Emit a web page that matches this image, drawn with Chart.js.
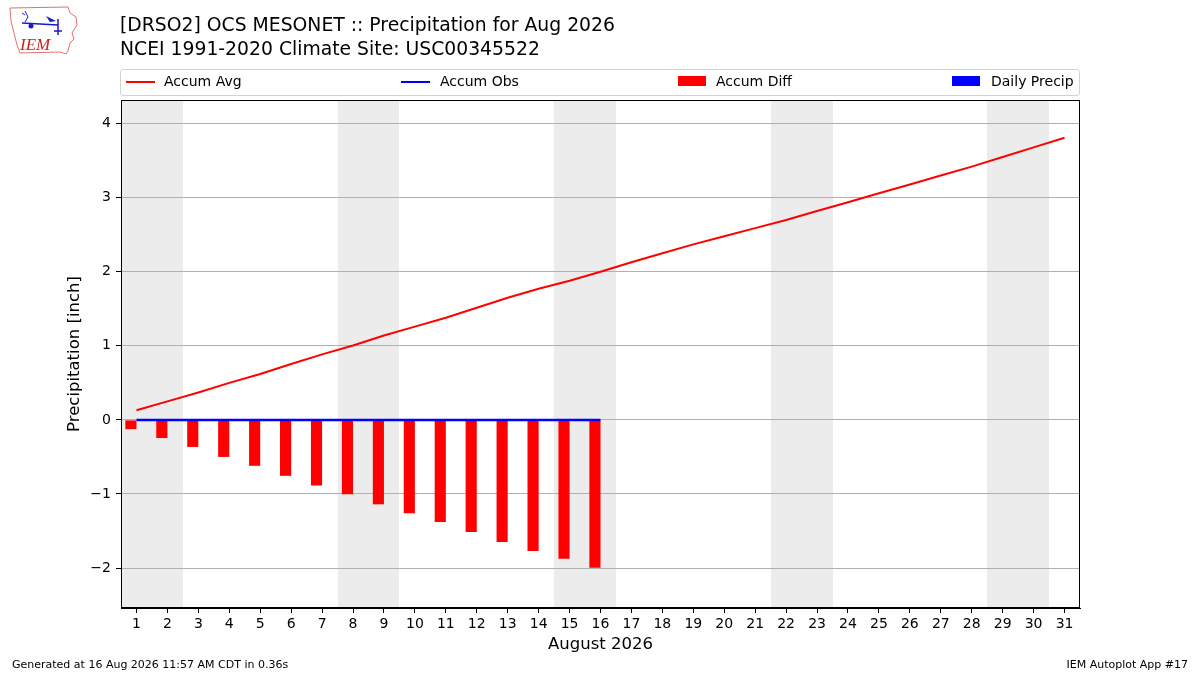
<!DOCTYPE html>
<html>
<head>
<meta charset="utf-8">
<script src="https://cdn.jsdelivr.net/npm/chart.js@4/dist/chart.umd.min.js"></script>
<style>
  body { margin: 0; background: #fff; font-family: "DejaVu Sans", sans-serif; }
  #wrap { position: relative; width: 1200px; height: 675px; overflow: hidden; }
  #chart { position: absolute; left: 0; top: 0; }
  .title { position: absolute; left: 120px; font-size: 18.8px; color: #000; white-space: nowrap; }
  #legend { position: absolute; left: 120px; top: 69px; width: 958px; height: 25px;
            border: 1px solid #d3d3d3; border-radius: 3px; background: #fff; }
  .item { position: absolute; top: -1px; height: 25px; line-height: 25px; font-size: 14px; white-space: nowrap; }
  .swl { position: absolute; top: 12px; width: 29px; height: 2px; }
  .swb { position: absolute; top: 7px; width: 28px; height: 10px; }
  .item span { position: absolute; }
  .foot { position: absolute; top: 658px; font-size: 11px; white-space: nowrap; }
</style>
</head>
<body>
<div id="wrap">
  <canvas id="chart" width="1200" height="675"></canvas>

  <svg style="position:absolute;left:8px;top:5px" width="72" height="54" viewBox="0 0 72 54">
    <path d="M2 3 L60 2 L62 8 L68 12 L69 20 L64 28 L66 34 L62 38 L60 46 L58 49 L52 47 L12 48 L9 40 L6 28 L3 16 Z"
          fill="none" stroke="#e07070" stroke-width="1"/>
    <path d="M14 18 L50 20 M50 14 L50 30 M46 26 L54 26" stroke="#1a1acc" stroke-width="1.5" fill="none"/>
    <path d="M38 11 L48 16 L42 17 Z" fill="#1a1acc"/>
    <circle cx="23" cy="21" r="2.5" fill="#1a1acc"/>
    <path d="M17 6 L20 12 L17 17 M14 8 L17 10" stroke="#1a1acc" stroke-width="1" fill="none"/>
    <text x="12" y="45" font-family="Liberation Serif, serif" font-style="italic" font-size="17" fill="#d02020">IEM</text>
  </svg>

  <div class="title" style="top:14px">[DRSO2] OCS MESONET :: Precipitation for Aug 2026</div>
  <div class="title" style="top:38px">NCEI 1991-2020 Climate Site: USC00345522</div>

  <div id="legend">
    <div class="item" style="left:5px"><div class="swl" style="left:0;background:#ff0000"></div><span style="left:38px">Accum Avg</span></div>
    <div class="item" style="left:280px"><div class="swl" style="left:0;background:#0000ff"></div><span style="left:39px">Accum Obs</span></div>
    <div class="item" style="left:557px"><div class="swb" style="left:0;background:#ff0000"></div><span style="left:38px">Accum Diff</span></div>
    <div class="item" style="left:831px"><div class="swb" style="left:0;background:#0000ff"></div><span style="left:39px">Daily Precip</span></div>
  </div>

  <div class="foot" style="left:12px">Generated at 16 Aug 2026 11:57 AM CDT in 0.36s</div>
  <div class="foot" style="right:12px">IEM Autoplot App #17</div>
</div>

<script>
// days of the month
const days = [];
for (let d = 1; d <= 31; d++) days.push(String(d));

// accumulated climatology (inch)
const accumAvg = [0.13, 0.25, 0.37, 0.50, 0.62, 0.755, 0.885, 1.005, 1.14, 1.26, 1.38, 1.515, 1.65, 1.77, 1.88, 2.00,
                  2.13, 2.25, 2.37, 2.48, 2.59, 2.70, 2.82, 2.94, 3.06, 3.18, 3.30, 3.42, 3.55, 3.68, 3.81];
// accumulated observed (inch), through the 16th
const accumObs = [0, 0, 0, 0, 0, 0, 0, 0, 0, 0, 0, 0, 0, 0, 0, 0];
// observed minus climatology
const accumDiff = [-0.125, -0.245, -0.365, -0.50, -0.62, -0.755, -0.885, -1.005, -1.14, -1.26, -1.38, -1.515, -1.65, -1.77, -1.875, -1.995];
const dailyPrecip = [0, 0, 0, 0, 0, 0, 0, 0, 0, 0, 0, 0, 0, 0, 0, 0];

const yTicks = [-2, -1, 0, 1, 2, 3, 4];

// sat / sun get a grey band (one rect per weekend so no seam)
const weekendShade = {
  id: 'weekendShade',
  beforeDraw(chart) {
    const { ctx, chartArea, scales: { x } } = chart;
    const step = x.width / days.length;
    ctx.save();
    ctx.fillStyle = '#ececec';
    let start = null;
    for (let i = 0; i <= days.length; i++) {
      const dow = i < days.length ? new Date(2026, 7, i + 1).getDay() : 1;
      const wk = dow === 0 || dow === 6;
      if (wk && start === null) start = i;
      if (!wk && start !== null) {
        const x0 = Math.round(x.getPixelForValue(start) - step / 2);
        const x1 = Math.round(x.getPixelForValue(i - 1) + step / 2);
        ctx.fillRect(x0, chartArea.top, x1 - x0, chartArea.bottom - chartArea.top);
        start = null;
      }
    }
    ctx.restore();
  }
};

const frame = {
  id: 'frame',
  afterDraw(chart) {
    const { ctx, chartArea: a } = chart;
    ctx.save();
    ctx.strokeStyle = '#000';
    ctx.lineWidth = 1;
    ctx.strokeRect(a.left + 0.5, a.top + 0.5, a.right - a.left - 1, a.bottom - a.top - 1);
    ctx.restore();
  }
};

const font = { family: 'DejaVu Sans', size: 14 };

new Chart(document.getElementById('chart'), {
  type: 'bar',
  data: {
    labels: days,
    datasets: [
      { type: 'line', label: 'Accum Avg', data: accumAvg, borderColor: '#ff0000', borderWidth: 2,
        pointRadius: 0, tension: 0, order: 0 },
      { type: 'line', label: 'Accum Obs', data: accumObs, borderColor: '#0000ff', borderWidth: 2.5,
        pointRadius: 0, tension: 0, order: 0 },
      { label: 'Accum Diff', data: accumDiff, backgroundColor: '#ff0000', order: 1,
        categoryPercentage: 0.72, barPercentage: 1.0 },
      { label: 'Daily Precip', data: dailyPrecip, backgroundColor: '#0000ff', order: 1,
        categoryPercentage: 0.72, barPercentage: 1.0 }
    ]
  },
  options: {
    responsive: false,
    animation: false,
    layout: { padding: { left: 60, top: 100, right: 120, bottom: 20 } },
    plugins: { legend: { display: false }, tooltip: { enabled: false } },
    scales: {
      x: {
        offset: true,
        grid: { offset: false, drawOnChartArea: false, drawTicks: true, tickLength: 5, tickColor: '#000' },
        border: { display: true, color: '#000' },
        ticks: { color: '#000', font: font, padding: 3, maxRotation: 0, autoSkip: false },
        title: { display: true, text: 'August 2026', color: '#000',
                 font: { family: 'DejaVu Sans', size: 16.5 }, padding: { top: 4, bottom: 0 } },
        afterFit(s) { s.height = 47; }
      },
      y: {
        min: -2.54, max: 4.32,
        afterBuildTicks(s) { s.ticks = yTicks.map(v => ({ value: v })); },
        grid: { color: '#b0b0b0', lineWidth: 1, drawTicks: true, tickLength: 5, tickColor: '#000' },
        border: { display: true, color: '#000' },
        ticks: { color: '#000', font: font, padding: 5,
                 callback: v => v < 0 ? '\u2212' + Math.abs(v) : String(v) },
        title: { display: true, text: 'Precipitation [inch]', color: '#000',
                 font: { family: 'DejaVu Sans', size: 16.5 }, padding: { top: 5, bottom: 0 } },
        afterFit(s) { s.width = 61; }
      }
    }
  },
  plugins: [weekendShade, frame]
});
</script>
</body>
</html>
